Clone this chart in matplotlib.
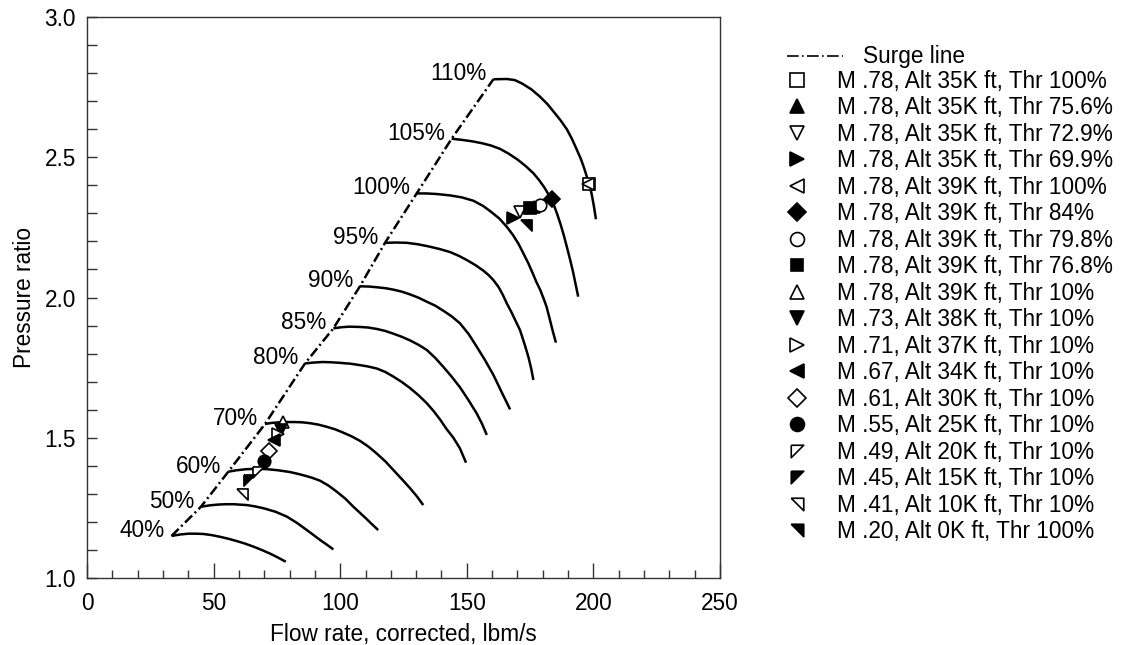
import numpy as np
import matplotlib
matplotlib.use("Agg")
import matplotlib.pyplot as plt
from matplotlib.lines import Line2D

plt.rcParams['font.family'] = ['Liberation Sans', 'DejaVu Sans']

# corrected speed lines
speed_labels = ['40%', '50%', '60%', '70%', '80%', '85%', '90%', '95%', '100%', '105%', '110%']
speed_flow = [
    [33.4, 36.7, 40.0, 43.0, 45.9, 49.2, 52.5, 55.8, 59.0, 62.3, 65.7, 69.0, 72.3, 75.4, 78.5],
    [45.0, 48.5, 52.0, 55.0, 58.0, 63.1, 66.5, 70.0, 74.5, 78.9, 83.0, 86.8, 89.5, 92.0,
     94.7, 97.3],
    [55.8, 59.0, 63.0, 67.0, 71.0, 75.5, 80.0, 83.0, 86.0, 89.0, 92.0, 95.3, 98.6, 102.0,
     105.2, 107.6, 110.0, 112.5, 115.0],
    [70.3, 73.0, 76.0, 79.0, 82.0, 85.0, 88.0, 91.3, 94.7, 98.0, 101.0, 104.5, 107.8, 111.2,
     114.4, 117.8, 121.0, 124.3, 127.6, 130.3, 132.8],
    [86.1, 89.5, 93.0, 96.5, 100.0, 104.0, 107.8, 111.0, 114.4, 117.7, 121.0, 124.3, 127.6,
     131.0, 134.2, 137.0, 139.6, 142.1, 144.7, 147.3, 149.7],
    [97.3, 100.5, 103.5, 107.8, 111.0, 114.4, 117.7, 121.0, 124.3, 127.6, 131.0, 134.2,
     137.5, 140.7, 144.0, 147.3, 150.6, 153.9, 156.0, 157.9],
    [107.8, 111.5, 115.0, 118.0, 121.0, 124.3, 127.6, 131.0, 134.2, 137.5, 140.7, 144.0,
     147.3, 150.7, 153.9, 157.3, 160.5, 163.8, 167.1],
    [117.7, 122.0, 126.3, 130.5, 135.0, 139.2, 143.4, 147.0, 150.3, 153.5, 156.5, 158.6,
     160.5, 162.5, 164.2, 165.8, 167.6, 169.3, 171.0, 172.7, 174.3, 175.4, 176.3],
    [130.2, 134.0, 138.0, 143.4, 148.0, 152.6, 156.5, 159.5, 162.8, 165.8, 168.3, 170.5,
     172.3, 174.3, 176.0, 177.5, 179.0, 180.3, 181.5, 182.7, 183.9, 185.2],
    [144.0, 148.0, 152.0, 156.0, 159.5, 163.1, 166.5, 170.0, 173.2, 176.3, 178.6, 180.8,
     182.6, 184.2, 185.6, 187.0, 188.3, 189.5, 190.8, 192.0, 193.0, 194.0],
    [160.5, 165.8, 169.0, 172.0, 175.5, 178.9, 182.0, 184.5, 187.0, 189.5, 191.5, 193.3,
     195.0, 196.4, 197.6, 198.7, 199.5, 200.3, 201.0],
]
speed_pr = [
    [1.150, 1.155, 1.158, 1.158, 1.157, 1.153, 1.147, 1.140, 1.132, 1.123, 1.112, 1.100,
     1.087, 1.073, 1.058],
    [1.254, 1.259, 1.262, 1.263, 1.263, 1.260, 1.255, 1.248, 1.236, 1.219, 1.196, 1.171,
     1.153, 1.136, 1.119, 1.102],
    [1.379, 1.384, 1.388, 1.389, 1.388, 1.384, 1.378, 1.372, 1.365, 1.357, 1.347, 1.330,
     1.308, 1.283, 1.254, 1.234, 1.214, 1.192, 1.171],
    [1.549, 1.553, 1.555, 1.556, 1.556, 1.555, 1.552, 1.547, 1.539, 1.530, 1.519, 1.505,
     1.489, 1.468, 1.444, 1.416, 1.385, 1.353, 1.320, 1.291, 1.260],
    [1.765, 1.768, 1.770, 1.769, 1.767, 1.764, 1.759, 1.754, 1.747, 1.735, 1.718, 1.699,
     1.677, 1.651, 1.623, 1.594, 1.563, 1.530, 1.500, 1.462, 1.411],
    [1.890, 1.894, 1.896, 1.895, 1.893, 1.888, 1.881, 1.871, 1.860, 1.847, 1.831, 1.813,
     1.785, 1.753, 1.718, 1.680, 1.635, 1.587, 1.550, 1.510],
    [2.040, 2.039, 2.036, 2.033, 2.028, 2.021, 2.011, 1.999, 1.985, 1.971, 1.953, 1.933,
     1.908, 1.870, 1.825, 1.775, 1.724, 1.662, 1.601],
    [2.195, 2.196, 2.195, 2.190, 2.182, 2.173, 2.162, 2.148, 2.132, 2.115, 2.096, 2.080,
     2.062, 2.038, 2.010, 1.979, 1.948, 1.916, 1.884, 1.837, 1.789, 1.748, 1.706],
    [2.371, 2.371, 2.369, 2.364, 2.357, 2.345, 2.326, 2.306, 2.282, 2.252, 2.222, 2.190,
     2.158, 2.122, 2.087, 2.055, 2.027, 1.997, 1.967, 1.925, 1.882, 1.839],
    [2.566, 2.562, 2.557, 2.550, 2.542, 2.530, 2.513, 2.492, 2.469, 2.443, 2.418, 2.390,
     2.362, 2.334, 2.300, 2.262, 2.222, 2.181, 2.135, 2.090, 2.046, 2.003],
    [2.778, 2.779, 2.775, 2.762, 2.742, 2.716, 2.688, 2.660, 2.632, 2.600, 2.566, 2.530,
     2.495, 2.460, 2.425, 2.395, 2.360, 2.320, 2.279],
]

# surge line
surge_flow = [33.4, 45.0, 55.8, 70.3, 86.1, 97.3, 107.8, 117.7, 130.2, 144.0, 160.5]
surge_pr = [1.150, 1.254, 1.379, 1.549, 1.765, 1.890, 2.040, 2.195, 2.371, 2.566, 2.778]

# operating points
op_labels = ['M .78, Alt 35K ft, Thr 100%', 'M .78, Alt 35K ft, Thr 75.6%',
             'M .78, Alt 35K ft, Thr 72.9%', 'M .78, Alt 35K ft, Thr 69.9%',
             'M .78, Alt 39K ft, Thr 100%', 'M .78, Alt 39K ft, Thr 84%',
             'M .78, Alt 39K ft, Thr 79.8%', 'M .78, Alt 39K ft, Thr 76.8%',
             'M .78, Alt 39K ft, Thr 10%', 'M .73, Alt 38K ft, Thr 10%',
             'M .71, Alt 37K ft, Thr 10%', 'M .67, Alt 34K ft, Thr 10%',
             'M .61, Alt 30K ft, Thr 10%', 'M .55, Alt 25K ft, Thr 10%',
             'M .49, Alt 20K ft, Thr 10%', 'M .45, Alt 15K ft, Thr 10%',
             'M .41, Alt 10K ft, Thr 10%', 'M .20, Alt 0K ft, Thr 100%']
op_flow = [198.3, 176.5, 171.0, 168.4, 197.8, 183.5, 178.9, 175.0,
           77.3, 76.6, 75.6, 74.0, 71.7, 70.0, 67.7, 64.0, 61.3, 173.2]
op_pr = [2.405, 2.322, 2.306, 2.285, 2.403, 2.351, 2.331, 2.320,
         1.557, 1.528, 1.512, 1.492, 1.452, 1.418, 1.379, 1.350, 1.300, 2.258]

# marker styles
tri_tl = [(-1, 1), (1, 1), (-1, -1), (-1, 1)]
tri_tr = [(-1, 1), (1, 1), (1, -1), (-1, 1)]
op_marker = ['s', '^', 'v', '>', '<', 'D', 'o', 's', '^', 'v', '>', '<', 'D', 'o',
             tri_tl, tri_tl, tri_tr, tri_tr]
op_filled = [False, True, False, True, False, True, False, True, False, True,
             False, True, False, True, False, True, False, True]
op_size = [9, 9, 9, 9, 9, 8, 9, 8, 9, 9, 9, 9, 8, 9, 8, 8, 8, 8]

FS = 16.3
W, H = 1133, 645
fig = plt.figure(figsize=(W / 100, H / 100), dpi=100)
ax = fig.add_axes([87 / W, 1 - 578 / H, (720 - 87) / W, (578 - 17) / H])

for lab, fx, py in zip(speed_labels, speed_flow, speed_pr):
    ax.plot(fx, py, color='black', lw=1.8, solid_joinstyle='round', solid_capstyle='butt')
    ax.annotate(lab, (fx[0], py[0]), xytext=(-5, 4), textcoords='offset points',
                ha='right', va='center', fontsize=FS)

ax.plot(surge_flow, surge_pr, color='black', lw=1.8, linestyle=(0, (4, 1.4, 0.8, 1.4)))

handles = []
for lab, x, y, m, f, s in zip(op_labels, op_flow, op_pr, op_marker, op_filled, op_size):
    fc = 'black' if f else 'white'
    ax.plot([x], [y], linestyle='none', marker=m, ms=s, mfc=fc, mec='black', mew=1.2)
    handles.append(Line2D([], [], linestyle='none', marker=m, ms=s + 1, mfc=fc,
                          mec='black', mew=1.2, label=lab))

ax.set_xlim(0, 250)
ax.set_ylim(1.0, 3.0)
ax.set_xticks(np.arange(0, 251, 50))
ax.set_xticks(np.arange(0, 251, 10), minor=True)
ax.set_yticks(np.arange(1.0, 3.01, 0.5))
ax.set_yticks(np.arange(1.0, 3.01, 0.1), minor=True)
ax.yaxis.set_major_formatter(matplotlib.ticker.FormatStrFormatter('%.1f'))
ax.tick_params(which='both', direction='in', top=False, right=False, labelsize=FS,
               width=1.0, color='#333333')
ax.tick_params(axis='x', which='major', length=11, pad=10)
ax.tick_params(axis='x', which='minor', length=6)
ax.tick_params(axis='y', which='major', length=7, pad=8)
ax.tick_params(axis='y', which='minor', length=7)
for sp in ax.spines.values():
    sp.set_color('#333333')
    sp.set_linewidth(1.0)

ax.set_xlabel('Flow rate, corrected, lbm/s', fontsize=FS, labelpad=6)
ax.set_ylabel('Pressure ratio', fontsize=FS, labelpad=6)

surge_handle = Line2D([], [], color='black', lw=1.2, linestyle=(0, (7, 2, 1, 2)))
fig.legend([surge_handle], ['Surge line'], loc='center left',
           bbox_to_anchor=(787 / W, 1 - 57 / H), frameon=False, fontsize=FS,
           handlelength=2.48, handletextpad=0.88, borderpad=0, borderaxespad=0)
fig.legend(handles=handles, loc='center left',
           bbox_to_anchor=(785.7 / W, 1 - 306.5 / H), frameon=False, fontsize=FS,
           handlelength=1.0, handletextpad=1.27, labelspacing=0.155,
           borderpad=0, borderaxespad=0)

fig.savefig('out.png', dpi=100)
